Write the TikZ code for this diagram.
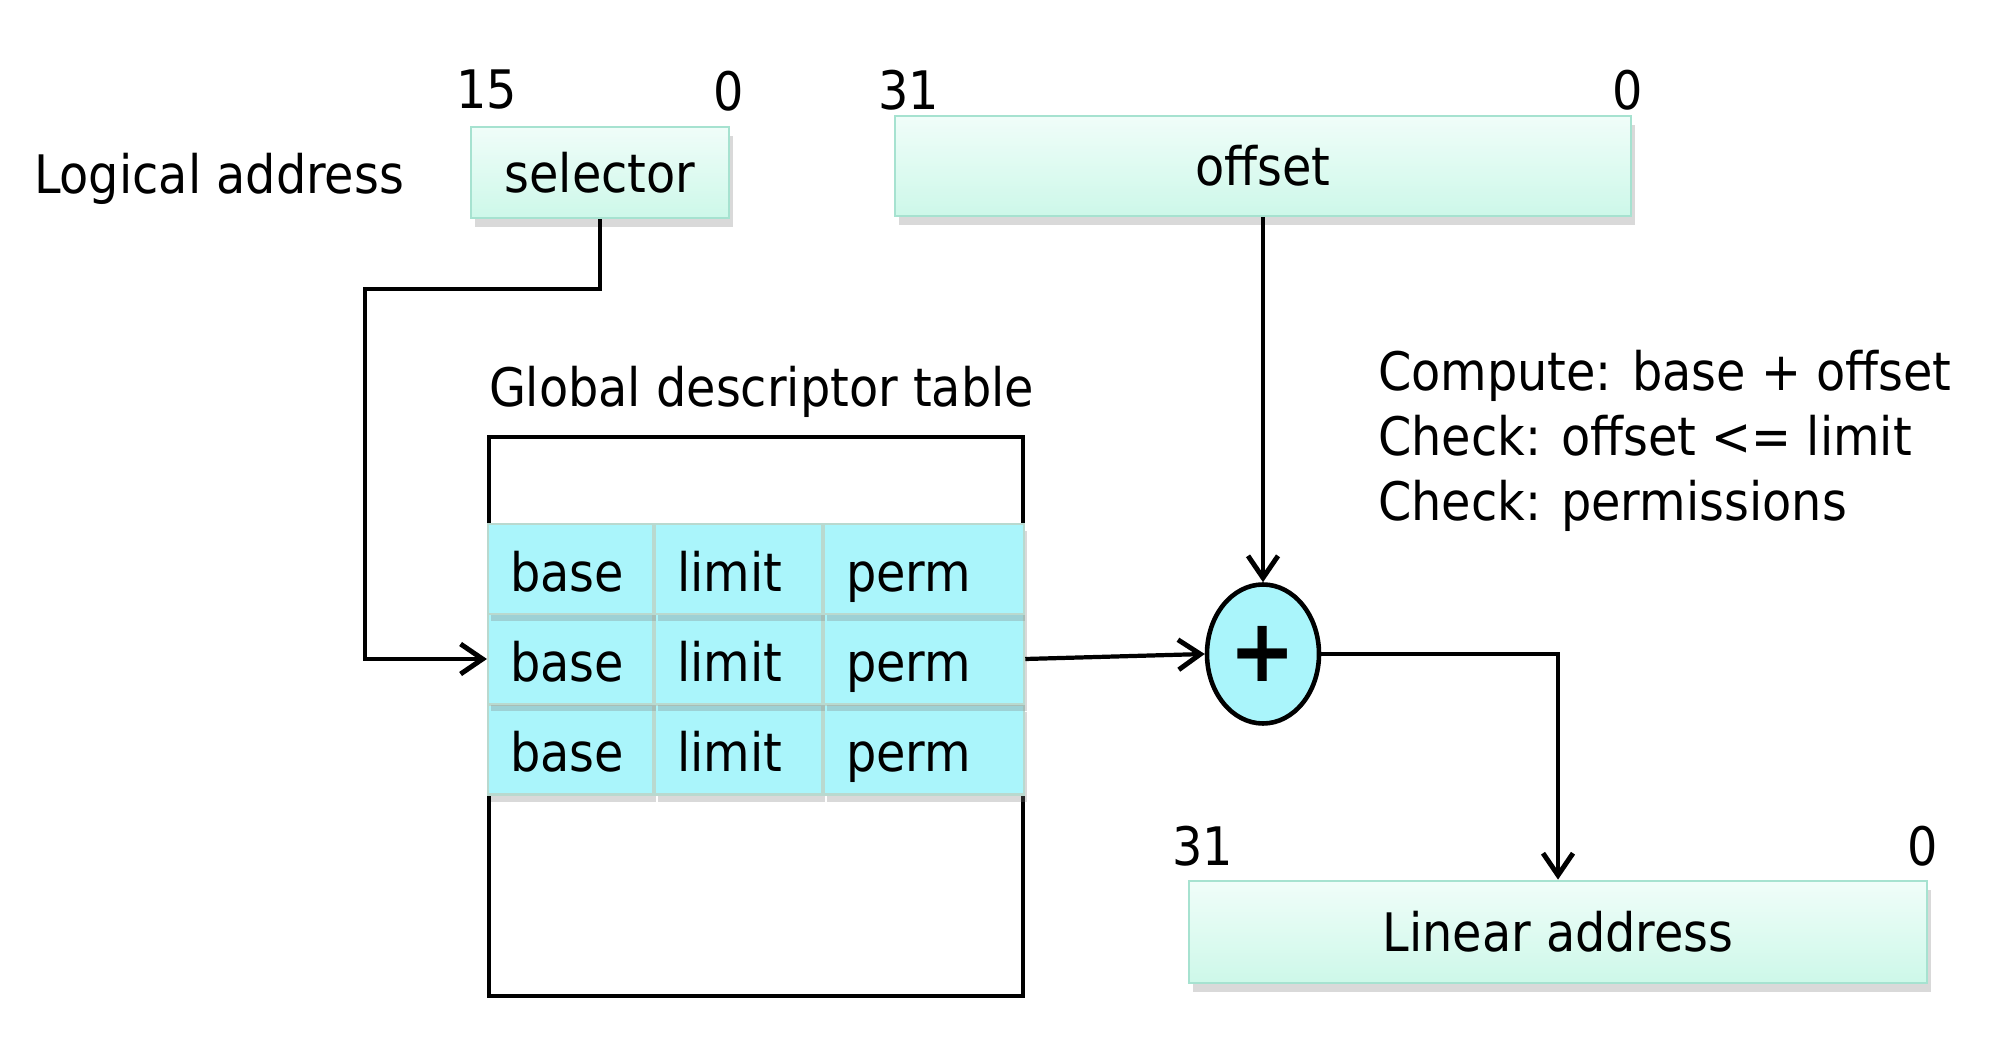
\documentclass[tikz,border=0pt]{standalone}
\usepackage{fontspec}
\setmainfont{DejaVu Sans Condensed}
\usetikzlibrary{arrows.meta, shapes, shadows, positioning}

\definecolor{mint top}{HTML}{F0FDF9}
\definecolor{mint bot}{HTML}{CDF8E9}
\definecolor{mint edge}{HTML}{A6E2D0}
\definecolor{cell cyan}{HTML}{AAF5FB}
\definecolor{cell edge}{HTML}{B9D9CF}

\begin{document}
\begin{tikzpicture}[font=\fontsize{15.1}{18.5}\selectfont,
	>={Straight Barb[length=2.2mm,width=3mm,line width=1.4pt]},
	line width=1.2pt]
	
	\tikzset{field box/.style={draw=mint edge, line width=0.8pt,
			top color=mint top, bottom color=mint bot,
			drop shadow={shadow xshift=0.4mm, shadow yshift=-0.9mm, opacity=0.3},
			inner sep=0pt}}
	\tikzset{gdt cell/.style={draw=cell edge, line width=0.6pt,
			fill=cell cyan, minimum height=0.9cm, align=left,
			text height=0.55cm, text depth=0.11cm,
			inner xsep=0.22cm, inner ysep=0pt,
			drop shadow={shadow xshift=0.3mm, shadow yshift=-0.7mm, opacity=0.3}}}
	\tikzset{bit num/.style={inner sep=0pt}}
	
	\useasboundingbox (0,0) rectangle (20,-10.6);
	
	% logical address
	\node[anchor=base west, inner sep=0pt] (logical) at (0.32,-1.94) {Logical address};
	\node[field box, minimum width=2.58cm, minimum height=0.91cm] (sel) at (6.00,-1.725) {selector};
	\node[field box, minimum width=7.36cm, minimum height=1.0cm] (off) at (12.63,-1.66) {offset};
	\node[bit num] (s15) at (4.87,-0.90) {15};
	\node[bit num] (s0) at (7.29,-0.91) {0};
	\node[bit num] (o31) at (9.09,-0.90) {31};
	\node[bit num] (o0) at (16.28,-0.90) {0};
	
	% global descriptor table
	\node[draw, line width=1.2pt, minimum width=5.34cm, minimum height=5.59cm, inner sep=0pt] (gdt) at (7.56,-7.165) {};
	\node[anchor=south west, inner sep=0pt] (gdttitle) at ([yshift=0.15cm]gdt.north west) {Global descriptor table};
	\foreach \r/\yy in {3/-7.495, 2/-6.59, 1/-5.69} {
		\node[gdt cell, text width=1.21cm] (B\r) at (5.705,\yy) {base};
		\node[gdt cell, text width=1.23cm, right=0cm of B\r] (L\r) {limit};
		\node[gdt cell, text width=1.56cm, right=0cm of L\r] (P\r) {perm};
	}
	
	% adder
	\node[ellipse, draw, line width=1.3pt, fill=cell cyan, minimum width=1.12cm,
	minimum height=1.39cm, inner sep=0pt,
	font=\fontsize{25}{25}\selectfont\bfseries] (plus) at (12.63,-6.54) {+};
	
	\node[anchor=north west, align=left, inner sep=0pt] (checks) at (13.76,-3.48)
	{Compute: base + offset\\Check: offset <= limit\\Check: permissions};
	
	% linear address
	\node[field box, minimum width=7.38cm, minimum height=1.02cm] (lin) at (15.58,-9.32) {Linear address};
	\node[bit num] (l31) at (12.03,-8.46) {31};
	\node[bit num] (l0) at (19.23,-8.46) {0};
	
	\coordinate (bend) at (3.65,-2.89);
	\draw[->] (sel.south) |- (bend) |- (B2.west);
	\draw[->] (P2.east) -- (plus.west);
	\draw[->] (off.south) -- (plus.north);
	\draw[->] (plus.east) -| (lin.north);
\end{tikzpicture}
\end{document}
